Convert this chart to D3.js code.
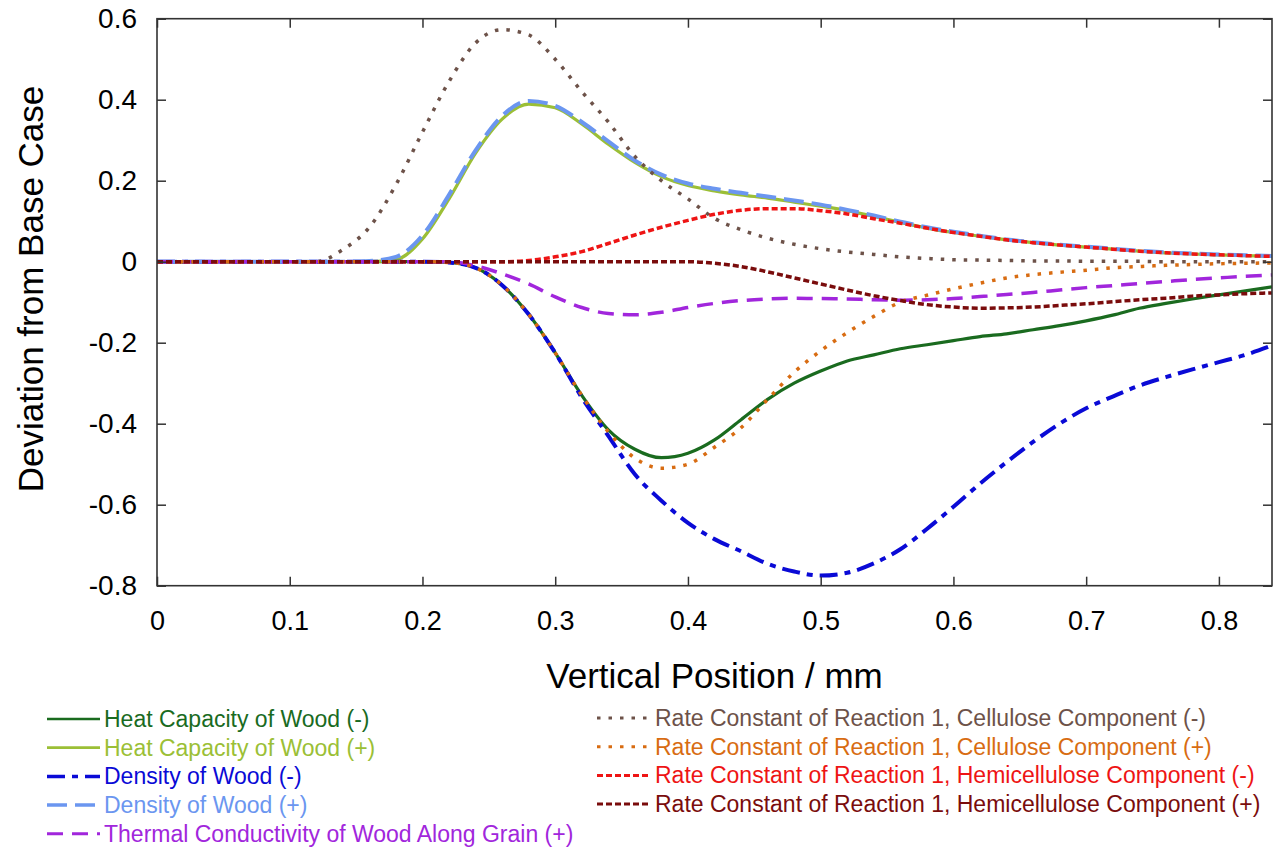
<!DOCTYPE html>
<html>
<head>
<meta charset="utf-8">
<script src="https://cdn.jsdelivr.net/npm/d3@7"></script>
<style>
  body { margin: 0; background: #fff; }
  svg { display: block; font-family: "Liberation Sans", Arial, sans-serif; }
</style>
</head>
<body>
<svg id="chart"></svg>
<script>
// vertical positions (mm)
const positions = [0, 0.1, 0.12, 0.14, 0.16, 0.18, 0.2, 0.22, 0.24, 0.26, 0.28, 0.3, 0.32, 0.34, 0.36, 0.38, 0.4,
  0.42, 0.44, 0.46, 0.48, 0.5, 0.52, 0.54, 0.56, 0.58, 0.6, 0.62, 0.64, 0.66, 0.68, 0.7, 0.72, 0.74, 0.76, 0.78, 0.8, 0.82, 0.84];

const heatCapMinus = [0, 0, 0, 0, 0, 0, 0, -0.002, -0.015, -0.058, -0.13, -0.225, -0.33, -0.415, -0.463, -0.484, -0.473,
  -0.44, -0.39, -0.34, -0.30, -0.27, -0.245, -0.23, -0.215, -0.205, -0.195, -0.185, -0.178, -0.168, -0.158, -0.146, -0.132, -0.115, -0.103, -0.092, -0.082, -0.072, -0.062];
const heatCapPlus = [0, 0, 0, 0, 0, 0.005, 0.056, 0.155, 0.268, 0.352, 0.389, 0.38, 0.34, 0.29, 0.245, 0.21, 0.188,
  0.175, 0.165, 0.157, 0.147, 0.137, 0.126, 0.112, 0.097, 0.083, 0.072, 0.063, 0.054, 0.047, 0.041, 0.036, 0.031, 0.026, 0.022, 0.019, 0.017, 0.015, 0.013];
const densityMinus = [0, 0, 0, 0, 0, 0, 0, -0.002, -0.015, -0.058, -0.13, -0.225, -0.335, -0.43, -0.525, -0.59, -0.645,
  -0.685, -0.715, -0.746, -0.765, -0.775, -0.768, -0.745, -0.71, -0.66, -0.605, -0.548, -0.495, -0.445, -0.4, -0.362, -0.333, -0.306, -0.285, -0.266, -0.248, -0.23, -0.207];
const densityPlus = [0, 0, 0, 0, 0.002, 0.012, 0.065, 0.165, 0.275, 0.36, 0.397, 0.385, 0.345, 0.297, 0.25, 0.215, 0.193,
  0.18, 0.17, 0.161, 0.151, 0.141, 0.128, 0.114, 0.099, 0.085, 0.074, 0.064, 0.055, 0.048, 0.042, 0.037, 0.032, 0.027, 0.023, 0.02, 0.018, 0.016, 0.014];
const conductivityPlus = [0, 0, 0, 0, 0, 0, 0, 0, -0.01, -0.03, -0.055, -0.087, -0.113, -0.128, -0.131, -0.125, -0.113,
  -0.103, -0.096, -0.092, -0.09, -0.091, -0.092, -0.094, -0.095, -0.094, -0.091, -0.086, -0.081, -0.076, -0.07, -0.064, -0.059, -0.054, -0.049, -0.044, -0.04, -0.036, -0.033];
const celluloseMinus = [0, 0, 0, 0.03, 0.085, 0.19, 0.32, 0.445, 0.54, 0.573, 0.56, 0.5, 0.42, 0.345, 0.26, 0.2, 0.155,
  0.107, 0.079, 0.058, 0.043, 0.032, 0.024, 0.018, 0.012, 0.008, 0.005, 0.004, 0.003, 0.002, 0.002, 0.001, 0.001, 0.001, 0, 0, 0, 0, 0];
const cellulosePlus = [0, 0, 0, 0, 0, 0, 0, -0.002, -0.015, -0.058, -0.13, -0.225, -0.33, -0.42, -0.485, -0.51, -0.5,
  -0.458, -0.41, -0.34, -0.273, -0.22, -0.175, -0.135, -0.1, -0.083, -0.067, -0.053, -0.04, -0.032, -0.026, -0.021, -0.015, -0.012, -0.009, -0.007, -0.005, -0.004, -0.003];
const hemiMinus = [0, 0, 0, 0, 0, 0, 0, 0, 0, 0, 0.003, 0.012, 0.025, 0.045, 0.066, 0.085, 0.102,
  0.117, 0.127, 0.131, 0.131, 0.126, 0.118, 0.106, 0.095, 0.083, 0.072, 0.063, 0.054, 0.047, 0.041, 0.036, 0.031, 0.026, 0.022, 0.019, 0.017, 0.015, 0.013];
const hemiPlus = [0, 0, 0, 0, 0, 0, 0, 0, 0, 0, 0, 0, 0, 0, 0, 0, 0,
  -0.004, -0.012, -0.025, -0.04, -0.055, -0.07, -0.084, -0.096, -0.106, -0.112, -0.115, -0.114, -0.112, -0.108, -0.104, -0.099, -0.094, -0.09, -0.085, -0.082, -0.079, -0.077];

const xTicks = [0, 0.1, 0.2, 0.3, 0.4, 0.5, 0.6, 0.7, 0.8];
const yTicks = [-0.8, -0.6, -0.4, -0.2, 0, 0.2, 0.4, 0.6];

const series = [
  { name: "Heat Capacity of Wood (-)", values: heatCapMinus, color: "#1a6b1f", dash: null, w: 3.2 },
  { name: "Heat Capacity of Wood (+)", values: heatCapPlus, color: "#9bbf36", dash: null, w: 3.2 },
  { name: "Density of Wood (-)", values: densityMinus, color: "#0a0ad6", dash: "18,7,6,7", w: 4 },
  { name: "Density of Wood (+)", values: densityPlus, color: "#6b96f0", dash: "20,8", w: 4 },
  { name: "Thermal Conductivity of Wood Along Grain (+)", values: conductivityPlus, color: "#a126dc", dash: "16,9", w: 3.5 },
  { name: "Rate Constant of Reaction 1, Cellulose Component (-)", values: celluloseMinus, color: "#6d5249", dash: "3.5,8", w: 3.5 },
  { name: "Rate Constant of Reaction 1, Cellulose Component (+)", values: cellulosePlus, color: "#d86c12", dash: "3.5,8", w: 3.5 },
  { name: "Rate Constant of Reaction 1, Hemicellulose Component (-)", values: hemiMinus, color: "#ee1414", dash: "6,3", w: 3.5 },
  { name: "Rate Constant of Reaction 1, Hemicellulose Component (+)", values: hemiPlus, color: "#7a0c0c", dash: "6,3", w: 3.5 }
];

const W = 1280, H = 848;
const margin = { top: 18.7, right: 8, bottom: 262.3, left: 157 };
const width = W - margin.left - margin.right,
    height = H - margin.top - margin.bottom;

const svg = d3.select("#chart").attr("width", W).attr("height", H);
const g = svg.append("g").attr("transform", "translate(" + margin.left + "," + margin.top + ")");

const x = d3.scaleLinear().domain([0, 0.84]).range([0, width]);
const y = d3.scaleLinear().domain([-0.8, 0.6]).range([height, 0]);

// lines
const line = d3.line()
    .x((d, i) => x(positions[i]))
    .y(d => y(d))
    .curve(d3.curveMonotoneX);

g.append("defs").append("clipPath").attr("id", "clip")
  .append("rect").attr("width", width).attr("height", height);

g.append("g").attr("clip-path", "url(#clip)")
  .selectAll("path")
  .data(series)
  .enter().append("path")
    .attr("fill", "none")
    .attr("stroke", d => d.color)
    .attr("stroke-width", d => d.w)
    .attr("stroke-dasharray", d => d.dash)
    .attr("d", d => line(d.values));

// axes with inward ticks on all four sides
const fmt = d => String(+d.toFixed(1));
const tickColor = "#333";

const xAxis = g.append("g")
  .attr("transform", "translate(0," + height + ")")
  .call(d3.axisBottom(x).tickValues(xTicks).tickFormat(fmt).tickSizeInner(-9).tickSizeOuter(0).tickPadding(25));
xAxis.selectAll("text").attr("font-size", 27).attr("fill", "#000");

g.append("g")
  .call(d3.axisTop(x).tickValues(xTicks).tickFormat("").tickSizeInner(-9).tickSizeOuter(0));

const yAxis = g.append("g")
  .call(d3.axisLeft(y).tickValues(yTicks).tickFormat(fmt).tickSizeInner(-9).tickSizeOuter(0).tickPadding(20));
yAxis.selectAll("text").attr("font-size", 28).attr("fill", "#000");

g.append("g")
  .attr("transform", "translate(" + width + ",0)")
  .call(d3.axisRight(y).tickValues(yTicks).tickFormat("").tickSizeInner(-9).tickSizeOuter(0));

g.selectAll(".domain").remove();
g.selectAll(".tick line").attr("stroke", tickColor).attr("stroke-width", 1.5);

g.append("rect")
  .attr("width", width).attr("height", height)
  .attr("fill", "none").attr("stroke", tickColor).attr("stroke-width", 1.6);

// axis titles
svg.append("text")
  .attr("x", margin.left + width / 2).attr("y", 688)
  .attr("text-anchor", "middle").attr("font-size", 35)
  .text("Vertical Position / mm");

svg.append("text")
  .attr("transform", "translate(43,289) rotate(-90)")
  .attr("text-anchor", "middle").attr("font-size", 35)
  .text("Deviation from Base Case");

// legend, two columns
const legendCols = [
  { items: series.slice(0, 5), x0: 47, x1: 100, tx: 104, y0: 719, step: 28.7 },
  { items: series.slice(5), x0: 597, x1: 650, tx: 655, y0: 718, step: 28.7 }
];

legendCols.forEach(col => {
  const rows = svg.append("g").selectAll("g")
    .data(col.items)
    .enter().append("g")
    .attr("transform", (d, i) => "translate(0," + (col.y0 + i * col.step) + ")");
  rows.append("line")
    .attr("x1", col.x0).attr("x2", col.x1)
    .attr("stroke", d => d.color)
    .attr("stroke-width", d => d.w - 0.5)
    .attr("stroke-dasharray", d => d.dash);
  rows.append("text")
    .attr("x", col.tx).attr("dy", "0.35em")
    .attr("font-size", 23)
    .attr("fill", d => d.color)
    .text(d => d.name);
});
</script>
</body>
</html>
